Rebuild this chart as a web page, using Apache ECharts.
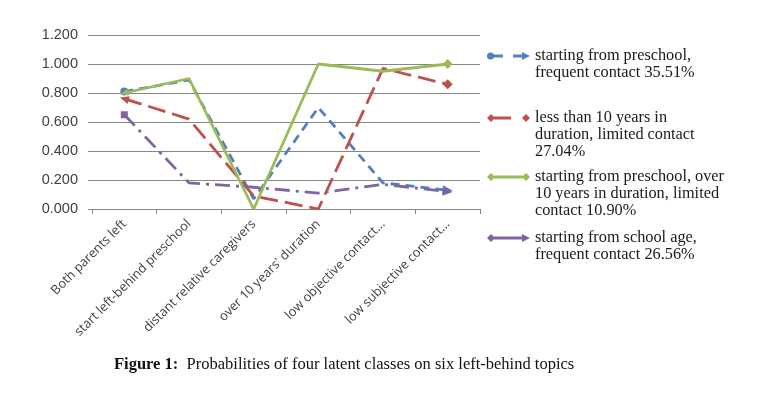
<!DOCTYPE html>
<html>
<head>
<meta charset="utf-8">
<script src="https://cdn.jsdelivr.net/npm/echarts@6/dist/echarts.min.js"></script>
<style>
html,body{margin:0;padding:0;background:#fff;}
#chart{width:770px;height:395px;}
</style>
</head>
<body>
<div id="chart"></div>
<script>
// ---- data ----
var categories = ["Both parents left", "start left-behind preschool", "distant relative caregivers", "over 10 years' duration", "low objective contact...", "low subjective contact..."];
var seriesNames = [
  "starting from preschool, frequent contact 35.51%",
  "less than 10 years in duration, limited contact 27.04%",
  "starting from preschool, over 10 years in duration, limited contact 10.90%",
  "starting from school age, frequent contact 26.56%"
];
var legendLines = [
  ["starting from preschool,", "frequent contact 35.51%"],
  ["less than 10 years in", "duration, limited contact", "27.04%"],
  ["starting from preschool, over", "10 years in duration, limited", "contact 10.90%"],
  ["starting from school age,", "frequent contact 26.56%"]
];
var classA = [0.81, 0.89, 0.07, 0.70, 0.18, 0.13];
var classB = [0.76, 0.62, 0.09, 0.00, 0.97, 0.86];
var classC = [0.80, 0.90, 0.00, 1.00, 0.95, 1.00];
var classD = [0.65, 0.18, 0.15, 0.11, 0.17, 0.12];
var yTicks = [0, 0.2, 0.4, 0.6, 0.8, 1.0, 1.2];

// ---- styles ----
var colors = ['#4F81BD', '#C0504D', '#9BBB59', '#8064A2'];
var dashes = [[9, 6], [18, 7], 'solid', [15, 6, 3, 6]];
var startSym = [
  {symbol: 'circle', size: 8, rotate: 0},
  {symbol: 'triangle', size: [8, 9], rotate: 73},
  {symbol: 'triangle', size: [7, 8], rotate: 103},
  {symbol: 'rect', size: 7, rotate: 0}
];
var endSym = [
  {symbol: 'triangle', size: [9, 10], rotate: -96},
  {symbol: 'diamond', size: 10, rotate: 0},
  {symbol: 'diamond', size: 10, rotate: 0},
  {symbol: 'triangle', size: [9, 10], rotate: -95}
];
var icons = [
  'path://M0,4 A3.5,3.5 0 1,1 7,4 A3.5,3.5 0 1,1 0,4 Z M6,2.6 H16 V5.4 H6 Z M26,2.6 H36 V5.4 H26 Z M35,0 L43,4 L35,8 Z',
  'path://M0,4 L4,0 L8,4 L4,8 Z M6,2.6 H24 V5.4 H6 Z M35,4 L39,0 L43,4 L39,8 Z',
  'path://M0,4 L4,0 L8,4 L4,8 Z M6,2.6 H37 V5.4 H6 Z M35,4 L39,0 L43,4 L39,8 Z',
  'path://M0,4 L4,0 L8,4 L4,8 Z M6,2.6 H37 V5.4 H6 Z M35,0 L43,4 L35,8 Z'
];
var legendTops = [30.5, 75.5, 134.5, 212.5];
var LH = 17;

var allValues = [classA, classB, classC, classD];

function buildData(vals, idx) {
  var last = vals.length - 1;
  return vals.map(function (v, i) {
    if (i === 0) return {value: v, symbol: startSym[idx].symbol, symbolSize: startSym[idx].size, symbolRotate: startSym[idx].rotate};
    if (i === last) return {value: v, symbol: endSym[idx].symbol, symbolSize: endSym[idx].size, symbolRotate: endSym[idx].rotate};
    return {value: v, symbol: 'none'};
  });
}

var series = allValues.map(function (vals, idx) {
  return {
    name: seriesNames[idx],
    type: 'line',
    data: buildData(vals, idx),
    showSymbol: true,
    showAllSymbol: true,
    symbol: 'circle',
    color: colors[idx],
    itemStyle: {color: colors[idx]},
    lineStyle: {color: colors[idx], width: 2.8, type: dashes[idx], cap: 'butt'},
    animation: false,
    z: 2 + idx
  };
});

var legends = seriesNames.map(function (n, idx) {
  var lines = legendLines[idx];
  var blanks = [];
  for (var k = 0; k < lines.length - 1; k++) blanks.push(' ');
  var txt = blanks.concat(lines).join('\n');
  return {
    left: 487,
    top: legendTops[idx],
    padding: 0,
    orient: 'vertical',
    itemWidth: 43,
    itemHeight: 8,
    symbolKeepAspect: false,
    selectedMode: false,
    formatter: function () { return txt; },
    textStyle: {
      fontFamily: '"Liberation Serif", "DejaVu Serif", serif',
      fontSize: 16.3,
      color: '#1a1a1a',
      lineHeight: LH
    },
    data: [{name: n, icon: icons[idx], itemStyle: {color: colors[idx]}}]
  };
});

var option = {
  backgroundColor: '#fff',
  animation: false,
  title: {
    text: '{b|Figure 1:}  Probabilities of four latent classes on six left-behind topics',
    left: 109,
    top: 351,
    textStyle: {
      fontFamily: '"Liberation Serif", serif',
      fontSize: 16.5,
      fontWeight: 'normal',
      color: '#111',
      rich: {
        b: {fontFamily: '"Liberation Serif", serif', fontSize: 16.5, fontWeight: 'bold', color: '#111'}
      }
    }
  },
  legend: legends,
  grid: {left: 92, right: 290, top: 35, bottom: 186, containLabel: false},
  xAxis: {
    type: 'category',
    data: categories,
    boundaryGap: true,
    axisLine: {show: true, lineStyle: {color: '#868686', width: 1}},
    axisTick: {show: true, length: 5, interval: 0, lineStyle: {color: '#868686'}},
    axisLabel: {
      interval: 0,
      rotate: 45,
      margin: 13,
      fontFamily: '"Open Sans", "Liberation Sans", sans-serif',
      fontSize: 12.8,
      color: '#404040'
    }
  },
  yAxis: {
    type: 'value',
    min: 0,
    max: 1.2,
    interval: 0.2,
    axisLine: {show: false},
    axisTick: {show: true, length: 4, lineStyle: {color: '#868686'}},
    splitLine: {show: true, lineStyle: {color: '#868686', width: 1}},
    axisLabel: {
      margin: 14,
      fontFamily: '"Liberation Sans", Arial, sans-serif',
      fontSize: 14.5,
      color: '#404040',
      formatter: function (v) { return v.toFixed(3); },
      customValues: yTicks
    }
  },
  series: series
};

var chart = echarts.init(document.getElementById('chart'), null, {renderer: 'canvas'});
chart.setOption(option);
</script>
</body>
</html>
